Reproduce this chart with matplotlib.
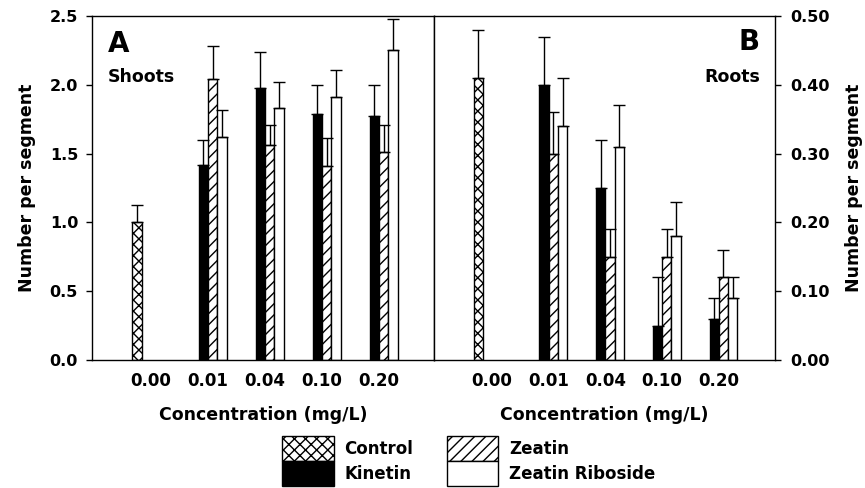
import numpy as np
import matplotlib
matplotlib.use('Agg')
import matplotlib.pyplot as plt
from matplotlib.patches import Patch

plt.rcParams['font.family'] = ['DejaVu Sans']
plt.rcParams['font.weight'] = 'bold'
plt.rcParams['hatch.linewidth'] = 1.0

# concentration labels (mg/L)
conc = ['0.00', '0.01', '0.04', '0.10', '0.20']

# shoots per segment (panel A)
shoot_control = 1.00
shoot_control_err = 0.13
shoot_kinetin = [1.42, 1.98, 1.79, 1.77]
shoot_kinetin_err = [0.18, 0.26, 0.21, 0.23]
shoot_zeatin = [2.04, 1.56, 1.41, 1.51]
shoot_zeatin_err = [0.24, 0.15, 0.20, 0.20]
shoot_zr = [1.62, 1.83, 1.91, 2.25]
shoot_zr_err = [0.20, 0.19, 0.20, 0.23]

# roots per segment (panel B)
root_control = 0.41
root_control_err = 0.07
root_kinetin = [0.40, 0.25, 0.05, 0.06]
root_kinetin_err = [0.07, 0.07, 0.07, 0.03]
root_zeatin = [0.30, 0.15, 0.15, 0.12]
root_zeatin_err = [0.06, 0.04, 0.04, 0.04]
root_zr = [0.34, 0.31, 0.18, 0.09]
root_zr_err = [0.07, 0.06, 0.05, 0.03]

w = 0.163
x = np.arange(len(conc))
xt = x[1:]


def draw_panel(ax, ctrl, ctrl_err, kin, kin_err, zea, zea_err, zr, zr_err):
    ek = dict(ecolor='black', elinewidth=1.0, capsize=4, capthick=1.0)
    ax.bar(x[0] - 1.5 * w, ctrl, w, facecolor='white', edgecolor='black',
           hatch='xxx', linewidth=1.0,
           yerr=[[0], [ctrl_err]], error_kw=ek)
    ax.bar(xt - 0.5 * w, kin, w, facecolor='black', edgecolor='black',
           linewidth=1.0, yerr=[np.zeros(4), kin_err], error_kw=ek)
    ax.bar(xt + 0.5 * w, zea, w, facecolor='white', edgecolor='black',
           hatch='///', linewidth=1.0, yerr=[np.zeros(4), zea_err], error_kw=ek)
    ax.bar(xt + 1.5 * w, zr, w, facecolor='white', edgecolor='black',
           linewidth=1.0, yerr=[np.zeros(4), zr_err], error_kw=ek)
    ax.set_xticks(x)
    ax.set_xticklabels(conc, fontsize=12, fontweight='bold')
    ax.tick_params(axis='x', length=0, pad=9)
    for s in ax.spines.values():
        s.set_linewidth(1.0)


fig = plt.figure(figsize=(8.65, 4.88), dpi=100)
ax1 = fig.add_axes([92 / 865, 128 / 488, 342 / 865, 344 / 488])
ax2 = fig.add_axes([434 / 865, 128 / 488, 341 / 865, 344 / 488])

# A - shoots
draw_panel(ax1, shoot_control, shoot_control_err, shoot_kinetin, shoot_kinetin_err,
           shoot_zeatin, shoot_zeatin_err, shoot_zr, shoot_zr_err)
ax1.set_xlim(-1.035, 4.965)
ax1.set_ylim(0, 2.5)
ax1.set_yticks(np.arange(0, 2.51, 0.5))
ax1.set_yticklabels(['%.1f' % v for v in np.arange(0, 2.51, 0.5)],
                    fontsize=11.5, fontweight='bold')
ax1.tick_params(axis='y', direction='out', length=4, width=1, pad=6)
ax1.set_ylabel('Number per segment', fontsize=12.5, fontweight='bold')
ax1.yaxis.set_label_coords(-0.164, 0.5)
ax1.set_xlabel('Concentration (mg/L)', fontsize=12.5, fontweight='bold', labelpad=11)
ax1.text(0.047, 0.895, 'A', transform=ax1.transAxes, fontsize=20,
         fontweight='bold', ha='left', va='baseline')
ax1.text(0.047, 0.808, 'Shoots', transform=ax1.transAxes, fontsize=12.5,
         fontweight='bold', ha='left', va='baseline')

# B - roots
draw_panel(ax2, root_control, root_control_err, root_kinetin, root_kinetin_err,
           root_zeatin, root_zeatin_err, root_zr, root_zr_err)
ax2.set_xlim(-1.023, 4.99)
ax2.set_ylim(0, 0.5)
ax2.yaxis.tick_right()
ax2.yaxis.set_label_position('right')
ax2.set_yticks(np.arange(0, 0.51, 0.1))
ax2.set_yticklabels(['%.2f' % v for v in np.arange(0, 0.51, 0.1)],
                    fontsize=11.5, fontweight='bold')
ax2.tick_params(axis='y', direction='out', length=4, width=1, pad=7)
ax2.set_ylabel('Number per segment', fontsize=12.5, fontweight='bold')
ax2.yaxis.set_label_coords(1.205, 0.5)
ax2.set_xlabel('Concentration (mg/L)', fontsize=12.5, fontweight='bold', labelpad=11)
ax2.text(0.956, 0.901, 'B', transform=ax2.transAxes, fontsize=20,
         fontweight='bold', ha='right', va='baseline')
ax2.text(0.956, 0.808, 'Roots', transform=ax2.transAxes, fontsize=12.5,
         fontweight='bold', ha='right', va='baseline')

handles = [Patch(facecolor='white', edgecolor='black', hatch='xxx', label='Control'),
           Patch(facecolor='black', edgecolor='black', label='Kinetin'),
           Patch(facecolor='white', edgecolor='black', hatch='///', label='Zeatin'),
           Patch(facecolor='white', edgecolor='black', label='Zeatin Riboside')]
fig.legend(handles=handles, ncol=2, frameon=False, loc='upper left',
           bbox_to_anchor=(282 / 865, 1 - 436 / 488), borderaxespad=0,
           borderpad=0, handlelength=3.1, handleheight=1.93,
           labelspacing=0, handletextpad=0.65, columnspacing=2.0,
           prop={'weight': 'bold', 'size': 12})

fig.savefig('out.png', dpi=100)
